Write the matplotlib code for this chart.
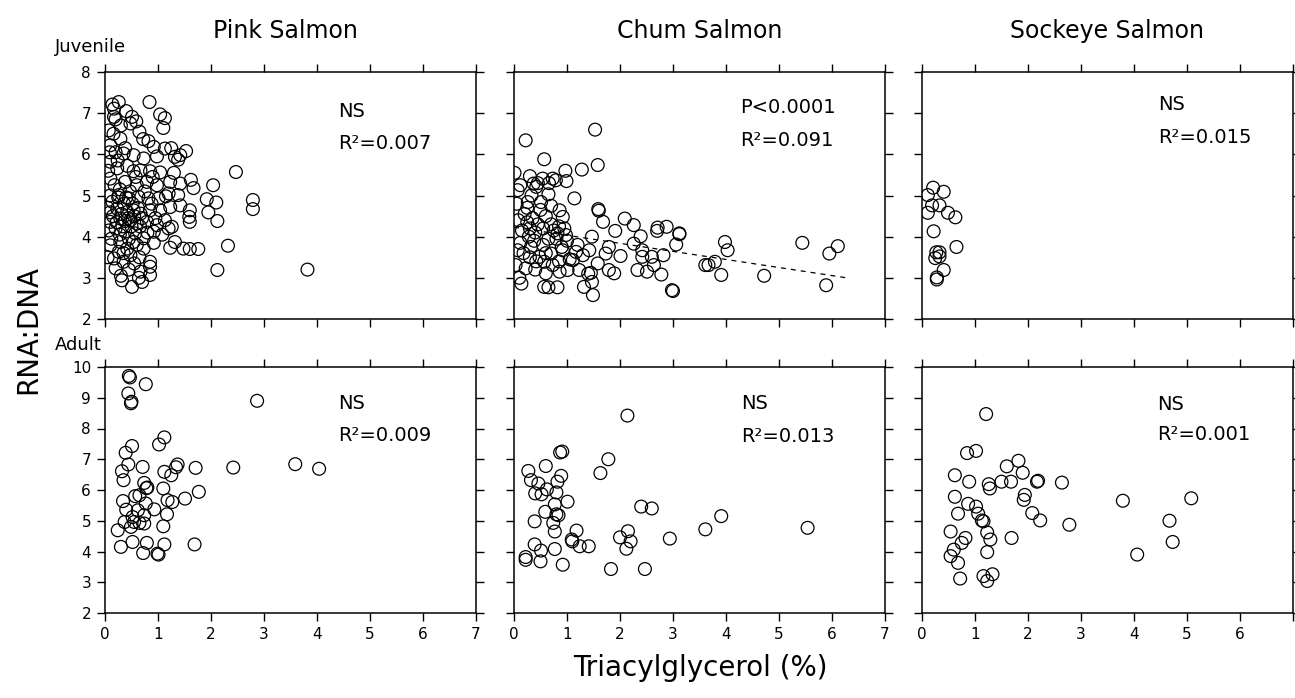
import matplotlib
matplotlib.use("Agg")
import matplotlib.pyplot as plt

plt.rcParams['font.family'] = ['DejaVu Sans']

species = ["Pink Salmon", "Chum Salmon", "Sockeye Salmon"]
stages = ["Juvenile", "Adult"]

# ---------------- Juvenile data ----------------
pink_juv_x = [0.84, 0.26, 0.14, 0.17, 1.04, 1.13, 1.10, 0.51, 0.59, 0.48, 0.17, 0.07, 0.72, 0.82, 0.92,
              1.13, 1.53, 1.32, 1.42, 1.38, 2.47, 2.04, 1.67, 1.92, 2.10, 1.95, 2.12, 2.79, 2.79, 1.60,
              2.32, 1.32, 1.23, 1.48, 1.60, 1.76, 2.12, 3.82, 0.85, 0.85, 0.85, 0.67, 0.64, 0.51, 0.32,
              0.20, 0.10, 0.73, 1.26, 1.20, 1.42, 1.23, 1.04, 0.85, 0.67, 0.54, 1.59, 1.60, 1.42, 1.38,
              1.20, 1.23, 1.13, 0.92, 0.73, 0.54, 0.48, 0.35, 0.17, 0.10, 0.10, 0.10, 0.10, 0.10, 0.10,
              0.29, 0.35, 0.54, 0.73, 0.23, 0.38, 0.60, 0.79, 0.98, 0.26, 0.45, 0.63, 0.82, 1.01, 0.23,
              0.42, 0.54, 0.67, 0.85, 1.04, 0.29, 0.48, 0.60, 0.79, 0.98, 0.20, 0.38, 0.57, 0.29, 0.42,
              0.26, 0.15, 0.22, 0.31, 0.36, 0.44, 0.50, 0.55, 0.62, 0.70, 0.33, 0.40, 0.28, 0.47, 0.14,
              0.18, 0.05, 0.07, 0.12, 0.06, 0.20, 0.16, 0.30, 0.24, 0.42, 0.58, 0.90, 0.75, 0.88, 0.95,
              0.66, 0.80, 0.45, 0.35, 0.55, 0.65, 0.30, 0.45, 0.70, 0.25, 0.52, 0.38, 0.05, 0.09, 0.20,
              0.38, 0.65, 0.40, 0.28, 0.60, 0.92, 1.08, 1.15, 1.30, 0.98, 1.25, 1.62]
pink_juv_y = [7.27, 7.27, 7.21, 7.11, 6.97, 6.88, 6.64, 6.91, 6.80, 6.75, 6.91, 6.58, 6.37, 6.32, 6.18,
              6.14, 6.08, 5.94, 5.98, 5.87, 5.57, 5.25, 5.18, 4.91, 4.83, 4.59, 4.38, 4.89, 4.67, 4.36,
              3.78, 3.87, 3.73, 3.71, 3.70, 3.70, 3.19, 3.20, 3.39, 3.27, 3.07, 3.15, 3.00, 2.78, 2.94,
              3.23, 3.79, 3.71, 4.24, 4.20, 5.29, 5.33, 5.56, 5.59, 5.61, 5.59, 4.48, 4.64, 4.76, 5.01,
              5.05, 4.72, 4.40, 4.12, 3.96, 3.87, 3.55, 3.39, 3.47, 4.36, 4.59, 5.00, 5.41, 5.82, 6.22,
              6.38, 6.02, 5.98, 5.90, 5.66, 5.33, 5.25, 5.33, 5.25, 5.01, 4.93, 4.97, 4.93, 4.93, 4.68,
              4.60, 4.64, 4.56, 4.64, 4.64, 4.44, 4.40, 4.32, 4.36, 4.28, 4.20, 4.12, 4.08, 3.87, 3.71,
              3.63, 4.50, 4.35, 4.55, 4.80, 4.45, 4.25, 4.50, 4.70, 4.45, 4.25, 4.95, 5.15, 5.10, 4.85,
              5.25, 4.70, 4.15, 3.95, 5.60, 6.05, 6.50, 6.70, 5.85, 5.72, 5.45, 5.45, 5.10, 4.80, 4.45,
              4.25, 4.10, 3.95, 3.60, 3.35, 3.50, 3.05, 3.20, 2.90, 4.95, 4.80, 4.38, 3.50, 6.05, 6.85,
              6.15, 6.55, 7.05, 4.05, 3.80, 3.85, 4.05, 4.98, 5.55, 5.95, 6.15, 5.38]

chum_juv_x = [1.53, 0.22, 0.57, 0.01, 0.30, 0.54, 0.73, 0.79, 0.97, 0.99, 1.28, 1.58, 0.07, 0.37, 0.42,
              0.65, 0.26, 0.51, 1.14, 1.59, 1.60, 1.68, 2.09, 2.26, 1.91, 2.70, 2.88, 3.12, 2.39, 3.06,
              3.61, 0.86, 0.92, 0.82, 0.98, 1.47, 0.07, 0.32, 0.48, 0.70, 0.92, 1.17, 1.42, 1.73, 2.01,
              1.79, 2.26, 2.42, 2.42, 2.60, 2.82, 0.03, 0.22, 0.57, 0.73, 1.01, 1.23, 1.45, 1.58, 1.79,
              1.89, 2.33, 2.51, 2.64, 2.78, 0.14, 0.57, 0.65, 0.82, 1.32, 1.49, 1.47, 1.40, 2.98, 0.60,
              0.86, 1.11, 3.98, 4.03, 3.67, 3.79, 3.91, 4.72, 5.44, 5.95, 6.11, 5.89, 3.00, 2.71, 3.12,
              0.25, 0.30, 0.35, 0.40, 0.20, 0.28, 0.45, 0.15, 0.38, 0.55, 0.70, 0.75, 0.85, 0.80, 0.95,
              1.00, 0.65, 0.60, 0.50, 0.12, 0.08, 0.18, 0.42, 0.30, 0.55, 0.90, 1.05, 1.20, 1.30, 0.12,
              0.33, 0.45, 0.66, 0.70, 0.25, 0.05, 0.60, 0.85, 0.40, 0.10]
chum_juv_y = [6.60, 6.34, 5.88, 5.55, 5.47, 5.41, 5.41, 5.37, 5.60, 5.35, 5.63, 5.74, 5.13, 5.29, 5.21,
              5.03, 4.84, 4.84, 4.93, 4.67, 4.63, 4.36, 4.44, 4.28, 4.14, 4.14, 4.24, 4.06, 4.01, 3.81,
              3.31, 4.64, 4.48, 4.08, 4.04, 4.00, 3.67, 3.75, 3.51, 3.59, 3.67, 3.63, 3.67, 3.59, 3.53,
              3.75, 3.83, 3.67, 3.51, 3.51, 3.55, 3.31, 3.23, 3.39, 3.31, 3.19, 3.19, 3.12, 3.35, 3.19,
              3.11, 3.19, 3.15, 3.31, 3.08, 2.86, 2.78, 2.77, 2.77, 2.78, 2.58, 2.90, 3.10, 2.70, 3.11,
              3.15, 3.43, 3.87, 3.67, 3.31, 3.39, 3.07, 3.05, 3.85, 3.59, 3.77, 2.82, 2.68, 4.22, 4.08,
              4.35, 4.20, 4.45, 4.10, 4.55, 4.00, 4.30, 4.15, 3.90, 4.20, 4.30, 4.15, 4.25, 3.95, 4.20,
              3.90, 3.95, 4.50, 4.65, 3.85, 4.40, 3.60, 3.40, 3.50, 3.80, 3.75, 3.45, 3.80, 3.55, 5.25,
              5.00, 5.30, 5.30, 4.75, 4.70, 4.80, 3.60, 3.40, 3.20, 3.00]
chum_juv_fit_x = [0.0, 6.33]
chum_juv_fit_y = [4.23, 2.99]

sock_juv_x = [0.21, 0.41, 0.11, 0.19, 0.33, 0.11, 0.49, 0.63, 0.22, 0.65, 0.27, 0.33, 0.33, 0.25, 0.41,
              0.28, 0.28]
sock_juv_y = [5.19, 5.09, 5.01, 4.76, 4.76, 4.58, 4.58, 4.47, 4.13, 3.75, 3.62, 3.62, 3.52, 3.48, 3.19,
              3.01, 2.96]

# ---------------- Adult data ----------------
pink_ad_x = [0.45, 0.47, 0.77, 0.44, 0.50, 0.49, 2.87, 1.12, 1.02, 0.51, 0.39, 0.44, 0.32, 0.35, 0.71,
             1.37, 1.34, 1.12, 1.25, 1.71, 2.42, 3.59, 4.04, 0.74, 0.80, 0.78, 1.10, 1.77, 0.57, 0.65,
             0.34, 0.77, 1.18, 1.27, 1.51, 0.40, 0.62, 0.93, 0.74, 0.52, 0.55, 0.37, 0.74, 0.49, 0.65,
             1.17, 1.10, 0.24, 0.30, 0.52, 0.79, 1.12, 0.72, 0.99, 1.01, 1.69]
pink_ad_y = [9.71, 9.66, 9.44, 9.14, 8.87, 8.82, 8.90, 7.71, 7.48, 7.43, 7.21, 6.83, 6.61, 6.32, 6.75,
             6.83, 6.74, 6.59, 6.48, 6.72, 6.73, 6.84, 6.69, 6.23, 6.08, 6.06, 6.05, 5.94, 5.80, 5.83,
             5.64, 5.56, 5.67, 5.61, 5.72, 5.36, 5.34, 5.37, 5.18, 5.12, 4.96, 4.96, 4.91, 4.80, 4.93,
             5.21, 4.82, 4.69, 4.15, 4.31, 4.28, 4.23, 3.95, 3.93, 3.90, 4.23]

chum_ad_x = [2.14, 0.87, 0.91, 0.60, 0.27, 0.32, 0.46, 0.62, 0.40, 0.52, 0.89, 0.82, 0.80, 1.01, 0.77,
             0.59, 0.80, 0.84, 0.74, 0.39, 0.77, 1.78, 1.63, 2.40, 2.60, 3.91, 3.61, 2.94, 1.18, 1.09,
             1.10, 1.24, 1.41, 2.15, 2.00, 2.20, 2.12, 0.39, 0.51, 0.77, 0.22, 0.22, 0.50, 0.92, 1.83,
             2.47, 5.54]
chum_ad_y = [8.42, 7.22, 7.25, 6.78, 6.62, 6.32, 6.21, 6.02, 5.89, 5.86, 6.46, 6.27, 5.92, 5.62, 5.53,
             5.29, 5.21, 5.18, 4.93, 4.98, 4.65, 7.00, 6.55, 5.46, 5.40, 5.15, 4.72, 4.42, 4.68, 4.39,
             4.33, 4.17, 4.17, 4.66, 4.46, 4.33, 4.09, 4.23, 4.03, 4.08, 3.82, 3.73, 3.68, 3.57, 3.43,
             3.43, 4.77]

sock_ad_x = [1.21, 0.85, 1.02, 0.62, 0.89, 0.62, 0.87, 0.68, 1.02, 1.06, 1.13, 1.16, 1.23, 1.29, 1.23,
             0.54, 0.82, 0.75, 0.60, 0.54, 0.68, 0.72, 1.16, 1.33, 1.23, 1.26, 1.28, 1.50, 1.68, 1.60,
             1.82, 1.90, 2.17, 2.19, 1.94, 1.92, 2.08, 2.23, 2.64, 2.78, 1.69, 3.79, 5.08, 4.67, 4.73,
             4.06]
sock_ad_y = [8.47, 7.20, 7.27, 6.48, 6.27, 5.78, 5.55, 5.23, 5.46, 5.23, 5.01, 4.98, 4.62, 4.39, 3.98,
             4.65, 4.44, 4.28, 4.06, 3.85, 3.63, 3.12, 3.20, 3.26, 3.04, 6.19, 6.05, 6.27, 6.27, 6.77,
             6.95, 6.56, 6.27, 6.30, 5.84, 5.68, 5.25, 5.01, 6.24, 4.87, 4.44, 5.65, 5.73, 5.00, 4.31,
             3.90]

stats_juv = [["NS", "R²=0.007"], ["P<0.0001", "R²=0.091"], ["NS", "R²=0.015"]]
stats_ad = [["NS", "R²=0.009"], ["NS", "R²=0.013"], ["NS", "R²=0.001"]]

x_ticks = [0, 1, 2, 3, 4, 5, 6, 7]
x_ticklabels = [["0", "1", "2", "3", "4", "5", "6", "7"],
                ["0", "1", "2", "3", "4", "5", "6", "7"],
                ["0", "1", "2", "3", "4", "5", "6", ""]]
juv_yticks = [2, 3, 4, 5, 6, 7, 8]
ad_yticks = [2, 3, 4, 5, 6, 7, 8, 9, 10]

juv_data = [(pink_juv_x, pink_juv_y), (chum_juv_x, chum_juv_y), (sock_juv_x, sock_juv_y)]
ad_data = [(pink_ad_x, pink_ad_y), (chum_ad_x, chum_ad_y), (sock_ad_x, sock_ad_y)]

W, H = 1295, 698
fig = plt.figure(figsize=(W / 100, H / 100), dpi=100)

col_left = [105, 514, 922]
col_w = 371
rows = [(72, 319), (367, 613)]

stat_pos_juv = [(4.39, 7.03, 6.26), (4.26, 7.14, 6.34), (4.45, 7.22, 6.42)]
stat_pos_ad = [(4.40, 8.82, 7.76), (4.28, 8.80, 7.75), (4.43, 8.79, 7.81)]


def make_ax(ci, ri):
    top, bot = rows[ri]
    ax = fig.add_axes([col_left[ci] / W, 1 - bot / H, col_w / W, (bot - top) / H])
    for s in ax.spines.values():
        s.set_linewidth(1.1)
    ax.tick_params(direction='out', top=True, right=True, length=6, width=1.0,
                   labelsize=11, pad=4)
    return ax


for ci in range(3):
    for ri, (data, stats, spos, yt, ylim) in enumerate([
            (juv_data, stats_juv, stat_pos_juv, juv_yticks, (2, 8)),
            (ad_data, stats_ad, stat_pos_ad, ad_yticks, (2, 10))]):
        ax = make_ax(ci, ri)
        xs, ys = data[ci]
        ax.scatter(xs, ys, s=85, facecolors='none', edgecolors='black', linewidths=0.9, zorder=3)
        if ri == 0 and ci == 1:
            ax.plot(chum_juv_fit_x, chum_juv_fit_y, linestyle=(0, (4, 4)), color='black',
                    linewidth=0.9, zorder=2)
        ax.set_xlim(0, 7)
        ax.set_ylim(*ylim)
        ax.set_xticks(x_ticks)
        ax.set_yticks(yt)
        if ri == 1:
            ax.set_xticklabels(x_ticklabels[ci])
        else:
            ax.tick_params(labelbottom=False)
        if ci != 0:
            ax.tick_params(labelleft=False)
        sx, sy1, sy2 = spos[ci]
        ax.text(sx, sy1, stats[ci][0], fontsize=14, ha='left', va='center')
        ax.text(sx, sy2, stats[ci][1], fontsize=14, ha='left', va='center')

# Titles
title_x = [285, 700, 1107]
for t, x in zip(species, title_x):
    fig.text(x / W, 1 - 31 / H, t, ha='center', va='center', fontsize=17)

fig.text(55 / W, 1 - 47 / H, stages[0], ha='left', va='center', fontsize=13)
fig.text(55 / W, 1 - 345 / H, stages[1], ha='left', va='center', fontsize=13)

fig.text(28 / W, 1 - 330 / H, "RNA:DNA", rotation=90, ha='center', va='center', fontsize=20)
fig.text(700 / W, 1 - 668 / H, "Triacylglycerol (%)", ha='center', va='center', fontsize=20)

fig.savefig("out.png", dpi=100)
